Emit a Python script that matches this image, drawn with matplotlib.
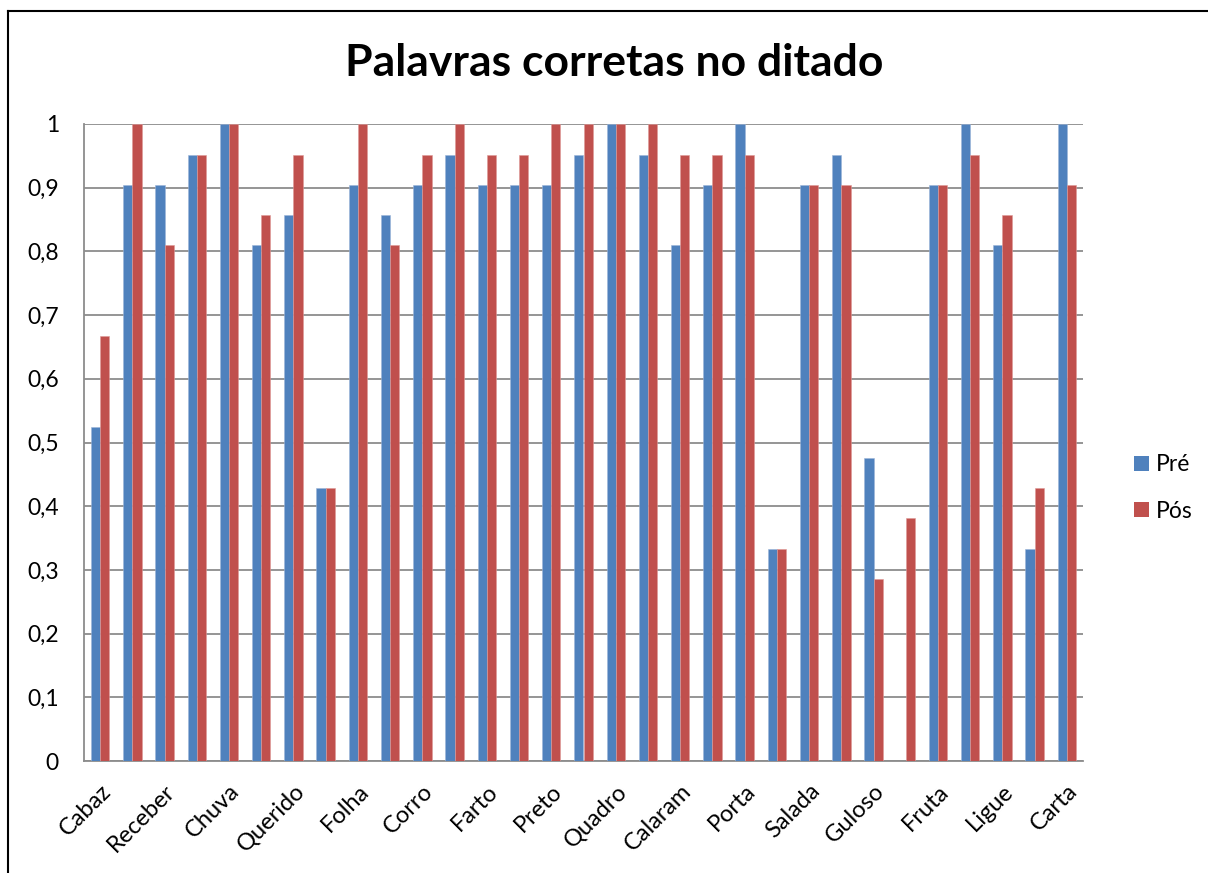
import matplotlib
matplotlib.use("Agg")
import matplotlib.pyplot as plt
import numpy as np
from matplotlib.lines import Line2D
from matplotlib.patches import Patch
from matplotlib.ticker import FuncFormatter

plt.rcParams['font.family'] = ['Lato', 'DejaVu Sans']

title = "Palavras corretas no ditado"
shown_labels = ["Cabaz", "Receber", "Chuva", "Querido", "Folha", "Corro", "Farto", "Preto",
                "Quadro", "Calaram", "Porta", "Salada", "Guloso", "Fruta", "Ligue", "Carta"]
series_names = ["Pré", "Pós"]
pre = [0.524, 0.905, 0.905, 0.952, 1.0, 0.810, 0.857, 0.429, 0.905, 0.857, 0.905,
       0.952, 0.905, 0.905, 0.905, 0.952, 1.0, 0.952, 0.810, 0.905, 1.0, 0.333,
       0.905, 0.952, 0.476, 0.0, 0.905, 1.0, 0.810, 0.333, 1.0]
pos = [0.667, 1.0, 0.810, 0.952, 1.0, 0.857, 0.952, 0.429, 1.0, 0.810, 0.952,
       1.0, 0.952, 0.952, 1.0, 1.0, 1.0, 1.0, 0.952, 0.952, 0.952, 0.333,
       0.905, 0.905, 0.286, 0.381, 0.905, 0.952, 0.857, 0.429, 0.905]
yticks = [0, 0.1, 0.2, 0.3, 0.4, 0.5, 0.6, 0.7, 0.8, 0.9, 1.0]

blue = "#4F81BD"
red = "#C0504D"
grid = "#8C8C8C"

W, H = 1208, 873
fig = plt.figure(figsize=(W / 100, H / 100), dpi=100)
fig.patch.set_facecolor("white")

ax = fig.add_axes([84 / W, 1 - 761 / H, (1083 - 84) / W, (761 - 124) / H])
n = len(pre)
x = np.arange(n)
bw = 0.286
ax.bar(x - bw / 2, pre, width=bw, color=blue, edgecolor="#9DB6D8", linewidth=0.4, zorder=3)
ax.bar(x + bw / 2, pos, width=bw, color=red, edgecolor="#DE9A98", linewidth=0.4, zorder=3)

ax.set_xlim(-0.5, n - 0.5)
ax.set_ylim(0, 1)
ax.set_yticks(yticks)
ax.yaxis.set_major_formatter(FuncFormatter(lambda v, p: ("%g" % round(v, 1)).replace(".", ",")))
ax.yaxis.grid(True, color=grid, linewidth=1.3, zorder=0)
ax.set_axisbelow(True)
ax.tick_params(axis="y", length=0, pad=18, labelsize=16.5)

ax.set_xticks(x[::2])
ax.set_xticklabels(shown_labels, rotation=45, ha="right", va="top", rotation_mode="anchor", fontsize=17)
ax.tick_params(axis="x", length=0, pad=14)

for s in ["top", "right"]:
    ax.spines[s].set_visible(False)
for s in ["left", "bottom"]:
    ax.spines[s].set_color(grid)
    ax.spines[s].set_linewidth(1.3)

fig.text(614 / W, 1 - 63 / H, title, ha="center", va="center", fontsize=32, fontweight="bold")

handles = [Patch(facecolor=blue), Patch(facecolor=red)]
fig.legend(handles, series_names, loc="center left", bbox_to_anchor=(1123 / W, 1 - 488 / H),
           frameon=False, fontsize=16.5, handlelength=0.65, handleheight=0.65, handletextpad=0.3,
           labelspacing=1.1, borderpad=0)

# chart border
fig.add_artist(Line2D([8 / W, 8 / W], [0, 1 - 11 / H], transform=fig.transFigure, color="black", linewidth=1.5))
fig.add_artist(Line2D([8 / W, 1], [1 - 11 / H, 1 - 11 / H], transform=fig.transFigure, color="black", linewidth=1.5))

fig.savefig("out.png", dpi=100)
